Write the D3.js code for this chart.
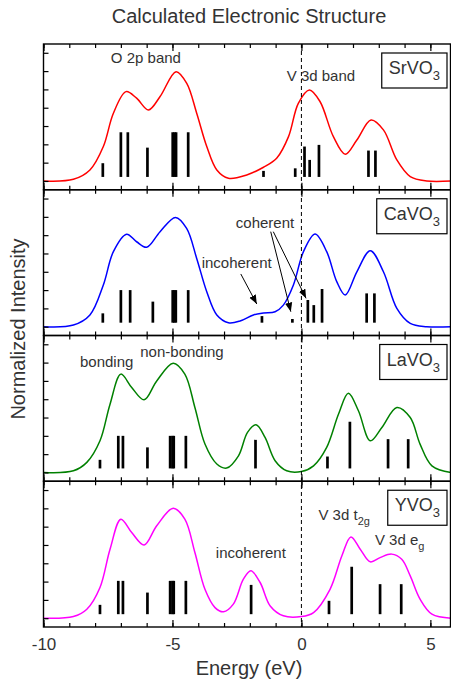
<!DOCTYPE html>
<html>
<head>
<meta charset="utf-8">
<script src="https://cdn.jsdelivr.net/npm/d3@7"></script>
<style>
  body { margin: 0; background: #fff; }
  text { font-family: "Liberation Sans", Arial, sans-serif; fill: #333; }
</style>
</head>
<body>
<div id="chart"></div>
<script>
// ---- data ----
const compounds = ["SrVO", "CaVO", "LaVO", "YVO"];
const energyTicks = [-10, -5, 0, 5];
const intensityTicks = [0, 1, 2, 3, 4, 5, 6, 7];

// broadened spectra: [energy, intensity]
const srCurve = [[-10,0],[-8.84,0.09],[-8.2,0.6],[-7.68,1.88],[-7.29,3.7],[-6.8,4.88],[-6.39,4.52],[-5.93,3.88],[-5.48,4.61],[-4.86,5.97],[-4.45,5.34],[-4.06,3.7],[-3.67,1.88],[-3.28,0.6],[-2.83,0.15],[-2.12,0.33],[-1.47,0.75],[-0.96,1.24],[-0.5,2.42],[-0.12,4.24],[0.31,4.97],[0.72,4.34],[1.24,2.42],[1.7,1.46],[2.15,2.24],[2.7,3.33],[3.18,2.79],[3.7,1.15],[4.22,0.24],[4.86,0],[5.8,0]];
const caCurve = [[-10,0],[-8.84,0.09],[-8.2,0.64],[-7.68,2.28],[-7.29,4.1],[-6.78,5.05],[-6.39,4.64],[-6.0,4.34],[-5.48,5.19],[-4.88,5.97],[-4.45,5.37],[-4.06,3.73],[-3.67,1.91],[-3.28,0.64],[-2.83,0.22],[-2.38,0.31],[-1.86,0.64],[-1.47,0.75],[-1.02,0.82],[-0.7,1.18],[-0.31,2.28],[0.08,4.1],[0.53,5.06],[0.98,4.1],[1.37,2.46],[1.7,1.73],[2.15,3.0],[2.67,4.15],[3.18,3.0],[3.7,1.0],[4.22,0.18],[4.86,0],[5.8,0]];
const laCurve = [[-10,0],[-8.84,0.09],[-8.32,0.55],[-7.81,1.73],[-7.42,3.73],[-7.0,5.37],[-6.58,4.64],[-6.1,3.97],[-5.61,5.0],[-4.97,5.97],[-4.52,5.37],[-4.13,3.55],[-3.74,1.55],[-3.28,0.46],[-2.9,0.24],[-2.44,0.91],[-2.09,2.19],[-1.76,2.6],[-1.41,1.91],[-1.02,0.64],[-0.57,0.09],[0,0.05],[0.47,0.36],[0.98,1.37],[1.44,3.19],[1.82,4.32],[2.21,3.37],[2.67,1.73],[3.12,2.46],[3.7,3.55],[4.22,3.0],[4.6,1.55],[5.06,0.36],[5.8,0]];
const yCurve = [[-10,0],[-8.84,0.09],[-8.32,0.49],[-7.81,1.68],[-7.42,3.77],[-7.0,5.41],[-6.58,4.68],[-6.1,4.0],[-5.61,5.05],[-4.97,6.01],[-4.52,5.41],[-4.13,3.59],[-3.74,1.58],[-3.35,0.58],[-3.02,0.35],[-2.64,0.77],[-2.25,2.13],[-1.96,2.59],[-1.6,1.95],[-1.21,0.67],[-0.7,0.13],[0,0.09],[0.47,0.31],[1.11,1.58],[1.57,3.41],[1.92,4.44],[2.28,3.77],[2.67,3.08],[3.05,3.31],[3.5,3.5],[3.89,3.22],[4.22,2.31],[4.6,1.04],[5.06,0.22],[5.8,0]];

// discrete levels: [energy, stick top]
const srSticks = [[-7.7,0.97],[-7.0,2.66],[-6.73,2.66],[-5.97,1.82],[-4.99,2.66],[-4.92,2.66],[-4.86,2.66],[-4.39,2.66],[-1.47,0.55],[-0.24,0.69],[0.12,1.88],[0.32,1.15],[0.68,1.97],[2.6,1.66],[2.87,1.66]];
const caSticks = [[-7.7,0.73],[-7.0,2.0],[-6.64,2.0],[-5.76,1.37],[-4.99,2.0],[-4.93,2.0],[-4.87,2.0],[-4.39,2.0],[-1.53,0.58],[-0.35,0.42],[0.25,1.46],[0.48,1.18],[0.8,2.06],[2.53,1.82],[2.83,1.82]];
const laSticks = [[-7.81,0.69],[-7.1,2.0],[-6.92,2.0],[-5.97,1.37],[-5.09,2.0],[-5.0,2.0],[-4.95,2.0],[-4.48,2.0],[-1.78,1.78],[1.01,0.87],[1.88,2.77],[3.36,1.82],[4.14,1.82]];
const ySticks = [[-7.81,0.73],[-7.1,2.04],[-6.92,2.04],[-5.97,1.4],[-5.09,2.04],[-5.0,2.04],[-4.95,2.04],[-4.48,2.04],[-1.95,1.82],[1.07,0.95],[1.95,2.81],[3.05,1.86],[3.87,1.86]];

const curves = [srCurve, caCurve, laCurve, yCurve];
const sticks = [srSticks, caSticks, laSticks, ySticks];
const lineColors = ["#ff0000", "#0000ff", "#008000", "#ff00ff"];

// ---- layout ----
const W = 451, H = 681;
const plotLeft = 43.5, plotRight = 450.5, plotTop = 44, panelH = 145.75;
const stickBase = 0.22;

const svg = d3.select("#chart").append("svg")
    .attr("width", W)
    .attr("height", H);

const x = d3.scaleLinear().domain([-10, 5.8]).range([plotLeft, 451]);

const line = d3.line()
    .x(d => x(d[0]))
    .curve(d3.curveCatmullRom.alpha(0.5));

// arrowhead marker
svg.append("defs").append("marker")
    .attr("id", "arrow")
    .attr("viewBox", "0 0 10 10")
    .attr("refX", 10).attr("refY", 5)
    .attr("markerWidth", 9).attr("markerHeight", 9)
    .attr("markerUnits", "userSpaceOnUse")
    .attr("orient", "auto")
    .append("path")
    .attr("d", "M0,1 L10,5 L0,9 Z")
    .attr("fill", "#000");

function addText(g, label, ex, ev, y, anchor) {
    return g.append("text")
        .attr("x", x(ex))
        .attr("y", y(ev))
        .attr("text-anchor", anchor || "middle")
        .style("font-size", "15px")
        .text(label);
}

function addArrow(g, a, b, y) {
    g.append("line")
        .attr("x1", x(a[0])).attr("y1", y(a[1]))
        .attr("x2", x(b[0])).attr("y2", y(b[1]))
        .attr("stroke", "#000")
        .attr("stroke-width", 1)
        .attr("marker-end", "url(#arrow)");
}

function panelAnnotations(g, i, y) {
    if (i === 0) {
        addText(g, "O 2p band", -6.03, 6.43, y);
        addText(g, "V 3d band", -0.57, 5.48, y, "start");
    } else if (i === 1) {
        addText(g, "coherent", -1.41, 5.37, y);
        addText(g, "incoherent", -2.51, 3.19, y);
        addArrow(g, [-2.35, 2.88], [-1.73, 1.24], y);
        addArrow(g, [-1.19, 5.19], [-0.41, 0.82], y);
        addArrow(g, [-1.09, 5.19], [0.18, 1.55], y);
    } else if (i === 2) {
        addText(g, "bonding", -7.55, 5.74, y);
        addText(g, "non-bonding", -4.63, 6.32, y);
    } else {
        addText(g, "incoherent", -1.96, 3.31, y);
        const t = addText(g, "V 3d t", 0.66, 5.36, y, "start");
        t.append("tspan").attr("dy", 5).style("font-size", "11px").text("2g");
        const e = addText(g, "V 3d e", 2.85, 4.0, y, "start");
        e.append("tspan").attr("dy", 5).style("font-size", "11px").text("g");
    }
}

compounds.forEach(function(name, i) {
    const y0 = plotTop + i * panelH;
    const y = d3.scaleLinear().domain([-0.48, 7.48]).range([y0 + panelH, y0]);
    const g = svg.append("g").attr("class", "panel");

    // sticks
    g.selectAll("line.stick")
        .data(sticks[i])
        .enter().append("line")
        .attr("class", "stick")
        .attr("x1", d => x(d[0]))
        .attr("x2", d => x(d[0]))
        .attr("y1", y(stickBase))
        .attr("y2", d => y(d[1]))
        .attr("stroke", "#000")
        .attr("stroke-width", 2.7);

    // broadened curve
    g.append("path")
        .datum(curves[i])
        .attr("d", line.y(d => y(d[1])))
        .attr("fill", "none")
        .attr("stroke", lineColors[i])
        .attr("stroke-width", 1.5);

    // tick marks, all pointing inward
    const minor = d3.range(-10, 6, 1);
    const axes = g.append("g").attr("class", "ticks");
    axes.append("g").attr("transform", `translate(0,${y0 + panelH})`)
        .call(d3.axisTop(x).tickValues(minor).tickSize(4).tickFormat(""));
    axes.append("g").attr("transform", `translate(0,${y0 + panelH})`)
        .call(d3.axisTop(x).tickValues(energyTicks).tickSize(7).tickFormat(""));
    axes.append("g").attr("transform", `translate(0,${y0})`)
        .call(d3.axisBottom(x).tickValues(minor).tickSize(4).tickFormat(""));
    axes.append("g").attr("transform", `translate(0,${y0})`)
        .call(d3.axisBottom(x).tickValues(energyTicks).tickSize(7).tickFormat(""));
    axes.append("g").attr("transform", `translate(${plotLeft},0)`)
        .call(d3.axisRight(y).tickValues(intensityTicks).tickSize(5).tickFormat(""));
    axes.selectAll(".domain").remove();
    axes.selectAll(".tick text").remove();
    axes.selectAll(".tick line").attr("stroke", "#000").attr("stroke-width", 1.2);

    // frame
    g.append("rect")
        .attr("x", plotLeft)
        .attr("y", y0)
        .attr("width", plotRight - plotLeft)
        .attr("height", panelH)
        .attr("fill", "none")
        .attr("stroke", "#000")
        .attr("stroke-width", 1.4);

    // compound label box
    const box = g.append("rect")
        .attr("fill", "#fff")
        .attr("stroke", "#000")
        .attr("stroke-width", 1.2);
    const lbl = g.append("text")
        .attr("y", y0 + 30)
        .style("font-size", "18px");
    lbl.append("tspan").text(name);
    lbl.append("tspan").attr("dy", 6).style("font-size", "13px").text("3");
    const bw = lbl.node().getComputedTextLength();
    const boxR = 447, pad = 7;
    lbl.attr("x", boxR - pad - bw);
    box.attr("x", boxR - bw - 2 * pad)
        .attr("y", y0 + 9)
        .attr("width", bw + 2 * pad)
        .attr("height", 35);

    panelAnnotations(g, i, y);
});

// dashed Fermi level
svg.append("line")
    .attr("x1", x(0)).attr("x2", x(0))
    .attr("y1", plotTop).attr("y2", plotTop + 4 * panelH)
    .attr("stroke", "#000")
    .attr("stroke-width", 1)
    .attr("stroke-dasharray", "4,3");

// bottom tick labels
svg.append("g")
    .attr("class", "x-labels")
    .attr("transform", `translate(0,${plotTop + 4 * panelH})`)
    .call(d3.axisBottom(x).tickValues(energyTicks).tickSize(0).tickPadding(11).tickFormat(d => String(d)))
    .call(s => s.select(".domain").remove())
    .selectAll("text")
    .style("font-size", "17px")
    .style("font-family", "'Liberation Sans', Arial, sans-serif")
    .attr("fill", "#333");

svg.append("text")
    .attr("x", 249)
    .attr("y", 675)
    .attr("text-anchor", "middle")
    .style("font-size", "20px")
    .text("Energy (eV)");

svg.append("text")
    .attr("transform", "translate(25,329) rotate(-90)")
    .attr("text-anchor", "middle")
    .style("font-size", "20px")
    .text("Normalized Intensity");

svg.append("text")
    .attr("x", 249)
    .attr("y", 23)
    .attr("text-anchor", "middle")
    .style("font-size", "20px")
    .text("Calculated Electronic Structure");
</script>
</body>
</html>
